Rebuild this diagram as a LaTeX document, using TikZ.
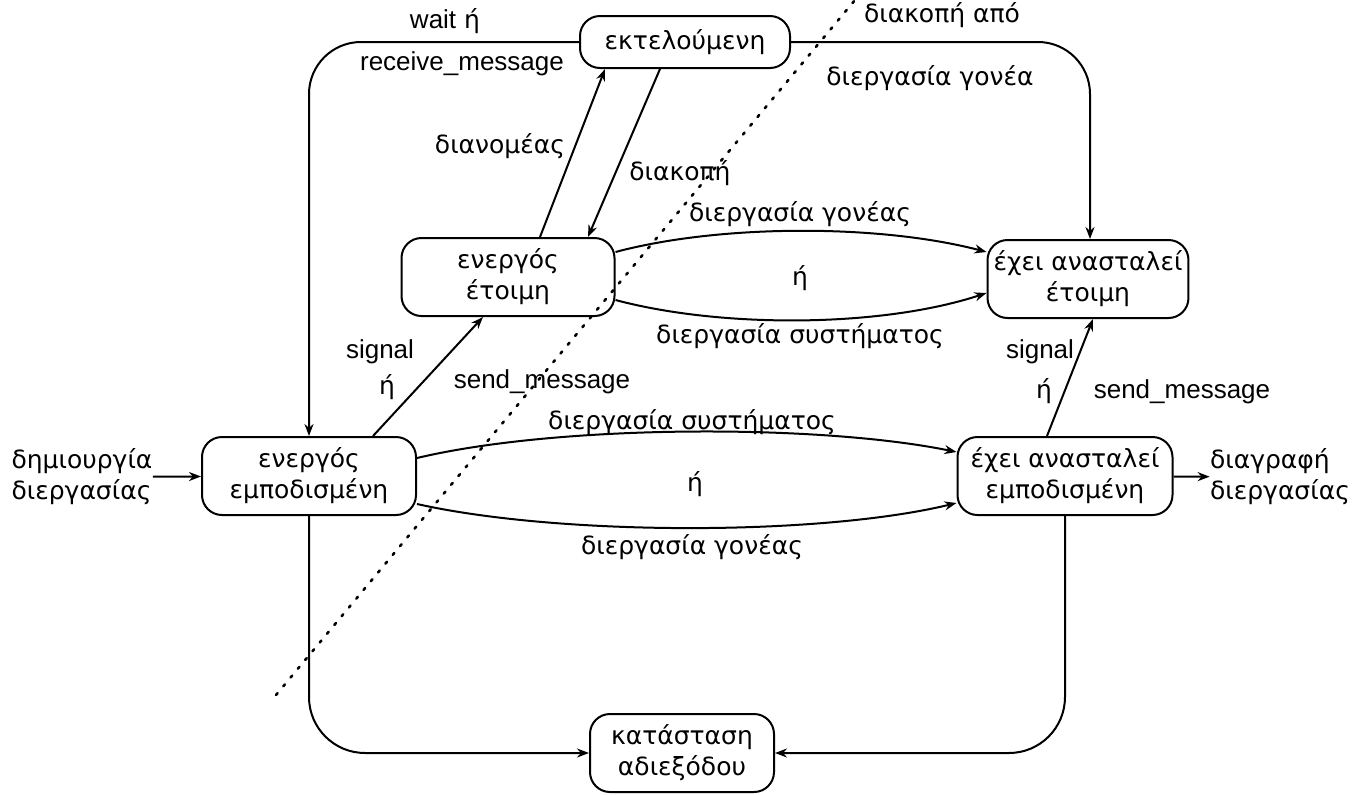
\documentclass[tikz,border=0pt]{standalone}
\usepackage{fontspec}
\setmainfont{DejaVu Sans}
\newfontfamily\latin{Liberation Sans}
\usetikzlibrary{arrows.meta}
\newcommand{\lt}[1]{{\latin\fontsize{13}{15.5}\selectfont #1}}
\begin{document}
\begin{tikzpicture}[x=0.5pt, y=-0.5pt,
  txt/.style={font=\fontsize{12.5}{15.5}\selectfont},
  state/.style={txt, draw, line width=1pt, rounded corners=10pt, align=center,
                inner xsep=3pt, inner ysep=0pt, minimum height=39pt},
  lbl/.style={txt, inner sep=0pt, align=center},
  conn/.style={line width=1pt, -{Stealth[length=6pt,width=4.5pt]}},
  border/.style={line width=1.3pt, dash pattern=on 1.2pt off 4.5pt, line cap=round}]
\useasboundingbox (0,0) rectangle (1357,794);

% states
\node[state, minimum width=105pt, minimum height=26pt] (run) at (685,42) {εκτελούμενη};
\node[state, minimum width=106.5pt] (ready)  at (508,277)  {ενεργός\\έτοιμη};
\node[state, minimum width=100pt] (sready)   at (1088,279) {έχει ανασταλεί\\έτοιμη};
\node[state, minimum width=107pt] (blocked)  at (309,476)  {ενεργός\\εμποδισμένη};
\node[state, minimum width=107.5pt] (sblocked) at (1065,476) {έχει ανασταλεί\\εμποδισμένη};
\node[state, minimum width=92pt]  (dead)     at (682,753)  {κατάσταση\\αδιεξόδου};

% entry and exit
\node[lbl, align=left] (create) at (82,477)   {δημιουργία\\διεργασίας};
\node[lbl, align=left] (delete) at (1280,477) {διαγραφή\\διεργασίας};
\draw[conn] (create) -- (blocked);
\draw[conn] (sblocked) -- (delete);

% boundary between the two groups of states
\coordinate (bl) at (276,695);
\coordinate (tr) at (855,0);
\draw[border] (bl) -- (tr);

% outer loops
\draw[conn, rounded corners=26pt] (run.west) -| (blocked.north);
\draw[conn, rounded corners=26pt] (run.east) -| ([xshift=1pt]sready.north);
\draw[conn, rounded corners=28pt] (blocked.south) |- (dead.west);
\draw[conn, rounded corners=28pt] (sblocked.south) |- (dead.east);

% running <-> ready
\draw[conn] ([xshift=16pt]ready.north) -- ([xshift=-40pt]run.south);
\draw[conn] ([xshift=-12.5pt]run.south) -- ([xshift=40pt]ready.north);

% suspension of ready process
\draw[conn] ([yshift=12.5pt]ready.east) .. controls (720,224) and (880,224) .. ([yshift=13.5pt]sready.west);
\draw[conn] ([yshift=-11.5pt]ready.east) .. controls (720,328) and (880,328) .. ([yshift=-7pt]sready.west);

% suspension of blocked process
\draw[conn] ([yshift=9pt]blocked.east) .. controls (560,424) and (820,424) .. ([yshift=12pt]sblocked.west);
\draw[conn] ([yshift=-14pt]blocked.east) .. controls (560,536) and (820,536) .. ([yshift=-13.5pt]sblocked.west);

% wake-up
\draw[conn] ([xshift=32pt]blocked.north) -- ([xshift=-12.5pt]ready.south);
\draw[conn] ([xshift=-9pt]sblocked.north) -- ([xshift=2.5pt]sready.south);

% labels
\node[lbl] (l1)  at (445,21)  {\lt{wait} ή};
\node[lbl] (l2)  at (462,64)  {\lt{receive\_message}};
\node[lbl] (l3)  at (942,15)  {διακοπή από};
\node[lbl] (l4)  at (930,78)  {διεργασία γονέα};
\node[lbl] (l5)  at (500,146) {διανομέας};
\node[lbl] (l6)  at (680,173) {διακοπή};
\node[lbl] (l7)  at (800,214) {διεργασία γονέας};
\node[lbl] (l8)  at (800,278) {ή};
\node[lbl] (l9)  at (800,336) {διεργασία συστήματος};
\node[lbl] (l10) at (380,352) {\lt{signal}};
\node[lbl] (l11) at (387,387) {ή};
\node[lbl] (l12) at (542,382) {\lt{send\_message}};
\node[lbl] (l13) at (1040,352) {\lt{signal}};
\node[lbl] (l14) at (1044,391) {ή};
\node[lbl] (l15) at (1182,392) {\lt{send\_message}};
\node[lbl] (l16) at (692,422) {διεργασία συστήματος};
\node[lbl] (l17) at (695,484) {ή};
\node[lbl] (l18) at (692,547) {διεργασία γονέας};
\end{tikzpicture}
\end{document}
